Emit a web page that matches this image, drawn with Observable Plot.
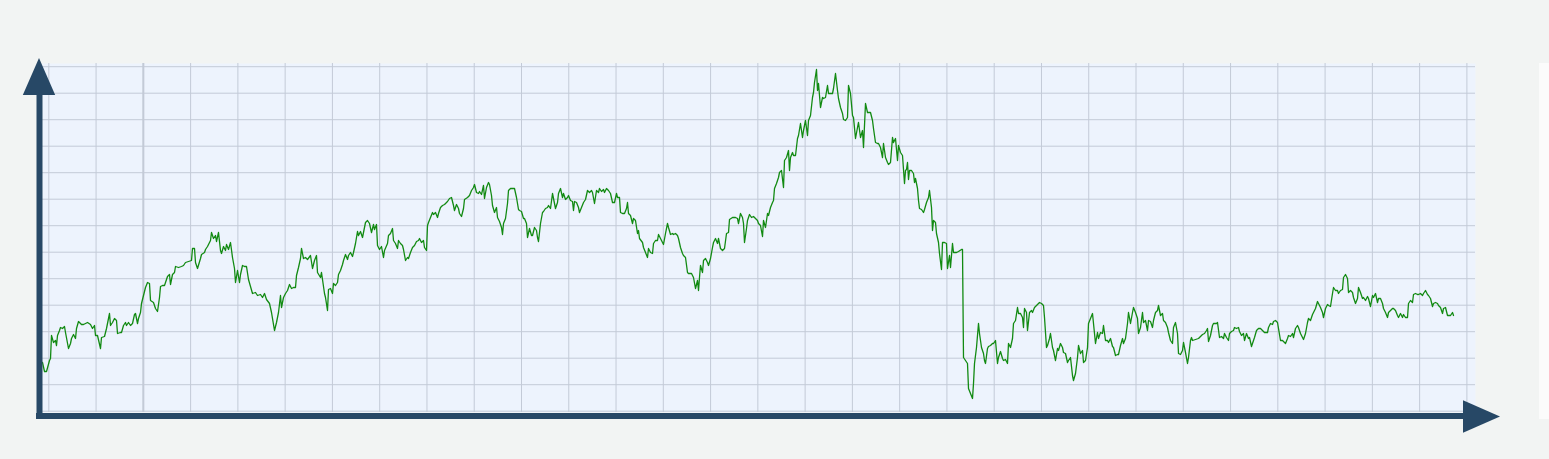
<!DOCTYPE html>
<html><head><meta charset="utf-8">
<script src="https://cdn.jsdelivr.net/npm/d3@7"></script>
<script src="https://cdn.jsdelivr.net/npm/@observablehq/plot@0.6"></script>
<style>
html,body{margin:0;padding:0;background:#f2f4f3;}
#wrap{position:relative;width:1549px;height:459px;overflow:hidden;}
#side{position:absolute;left:1539px;top:63px;width:10px;height:356px;background:#fbfbfb;}
svg{display:block;position:absolute;left:0;top:0;}
</style></head><body><div id="wrap"><div id="side"></div></div>
<script>
// trading-day index (arbitrary origin) and value (arbitrary units)
const days = [
0,2,4,7,8,9,11,13,14,15,17,18,20,22,23,26,28,29,31,33,34,36,39,41,43,45,48,50,52,53,55,58,59,62,64,65,67,68,70,72,
74,75,78,79,81,83,84,86,88,90,92,93,95,96,98,99,101,103,105,107,108,111,113,115,117,118,120,122,123,125,127,128,130,132,133,136,139,141,143,146,
149,150,152,153,155,158,159,162,163,165,168,169,171,173,174,176,178,179,181,183,184,186,188,190,192,193,195,197,198,200,202,204,206,208,210,213,215,218,220,222,
224,227,229,230,232,234,236,238,239,241,243,245,247,249,251,253,254,256,258,259,261,263,265,268,270,272,274,275,278,279,282,283,285,286,288,
290,291,293,295,296,298,300,301,303,305,306,308,310,311,313,315,316,318,320,321,323,325,327,329,331,332,334,335,337,339,
341,342,345,346,348,350,351,353,355,356,358,360,361,363,365,366,368,370,372,374,376,377,379,381,382,384,385,386,388,390,
391,393,395,396,398,400,402,405,407,409,411,412,414,416,417,419,421,422,425,427,429,431,432,434,436,437,439,441,442,444,
446,447,449,450,452,454,455,457,459,460,461,463,465,466,468,470,472,474,476,477,479,481,482,484,485,487,489,490,492,494,
495,496,498,500,501,503,505,506,508,510,511,513,515,516,518,520,521,523,525,526,528,530,531,532,534,536,537,539,541,543,
545,547,549,550,552,554,556,557,559,561,562,564,566,568,570,572,574,575,
577,578,580,582,584,585,586,588,590,591,593,595,596,597,600,601,603,605,606,608,610,611,613,615,616,618,620,621,623,625,
626,628,630,631,633,635,636,638,640,641,643,645,646,649,651,653,655,656,657,658,660,661,663,665,666,668,670,671,673,675,
676,678,680,682,684,686,687,690,691,693,695,696,698,700,701,702,704,705,707,709,711,712,715,716,718,720,721,723,725,726,
728,730,731,732,734,736,737,739,741,742,744,746,747,748,750,751,753,755,756,758,760,761,763,765,766,768,770,771,772,774,
775,776,778,780,781,783,785,786,788,790,791,793,795,796,798,800,801,803,805,806,808,810,811,813,815,816,818,820,821,823,
825,826,828,830,831,833,835,836,838,840,841,843,845,846,848,850,851,853,855,856,858,860,862,863,
864,865,866,867,869,871,872,873,875,876,877,879,881,882,884,886,887,889,890,891,893,894,896,897,899,900,902,904,905,907,
908,910,911,914,916,919,920,921,923,925,926,928,930,931,932,934,936,937,939,941,942,943,945,946,948,950,951,953,955,956,
958,960,961,963,965,966,968,970,971,973,975,976,978,980,981,982,984,985,987,989,990,992,994,996,997,999,1001,1002,1004,1005,
1007,1008,1010,1011,1013,1015,1016,1018,1020,1021,1023,1025,1026,1028,1030,1031,1033,1035,1036,1038,1040,1041,1043,1045,1046,1048,1050,1051,1053,1055,
1056,1058,1060,1061,1063,1065,1066,1068,1070,1071,1073,1075,1076,1078,1080,1081,1083,1085,1086,1088,1090,1091,1093,1095,1096,1098,1100,1101,1103,1105,
1106,1108,1110,1111,1113,1115,1116,1118,1120,1121,1123,1125,1126,1128,1130,1131,1133,1135,1136,1138,1140,1141,1143,1145,1146,1148,
1149,1150,1153,1156,1158,1160,1162,1164,1165,1166,1168,1170,1171,1174,1175,1177,1179,1181,1182,1184,1186,1187,1189,1191,1192,1194,1196,1197,1199,1201,
1202,1204,1206,1207,1209,1211,1212,1214,1216,1218,1220,1222,1225,1226,1228,1230,1231,1233,1235,1236,1238,1240,1241,1243,1245,1246,1248,1250,1251,1253,
1255,1256,1258,1260,1261,1263,1265,1266,1268,1270,1271,1273,1275,1276,1278,1280,1281,1283,1285,1286,1288,1290,1291,1293,1295,1296,1298,1300,1301,1303,
1305,1306,1308,1310,1311,1313,1315,1316,1318,1320,1321,1323,1325,1326,1328,1330,1331,1333,1335,1336,1338,1340,1341,1343,1345,1346,1348,1350,1351,1353,
1355,1356,1358,1360,1361,1363,1365,1366,1368,1370,1371,1373,1375,1376,1378,1380,1381,1383,1385,1386,1388,1390,1391,1393,1395,1396,1398,1400,1401,1403,
1405,1406,1408,1410,1411
];
const values = [
49,40,40,51,53,76,69,71,66,76,81,84,83,85,79,63,68,73,77,73,83,90,87,87,88,89,87,83,86,76,76,63,74,75,83,88,98,86,89,93,
91,78,79,79,86,89,86,89,86,88,97,98,88,93,99,108,116,124,129,128,111,109,103,100,114,125,126,126,129,135,137,127,137,139,145,144,145,146,149,150,
151,163,163,149,143,153,157,159,162,165,171,179,173,176,170,179,161,158,165,161,167,162,169,154,143,129,141,129,137,146,145,145,132,125,118,119,116,117,114,118,
112,108,99,93,81,89,99,116,104,114,118,121,127,123,124,124,136,144,153,163,153,154,152,156,143,151,156,139,134,139,118,114,101,122,123,
118,128,126,129,137,141,147,151,157,152,156,159,155,159,168,180,176,180,174,179,189,191,188,179,187,182,187,166,162,165,
154,161,168,176,178,183,171,168,163,171,168,166,162,151,154,153,159,164,166,170,171,173,169,171,164,161,186,189,194,199,
197,199,194,198,204,206,207,210,213,214,206,201,207,203,198,195,203,212,214,216,221,224,227,219,218,220,217,226,213,224,
229,227,216,206,199,204,194,190,184,177,188,193,208,221,223,223,223,214,202,201,200,193,193,188,174,183,176,176,184,181,
174,170,188,199,200,203,204,206,203,218,213,203,209,218,223,214,218,212,214,216,211,210,201,210,209,204,199,204,209,212,
221,219,221,219,208,221,219,223,220,222,219,223,221,218,209,209,218,214,
214,199,198,198,203,209,198,196,188,193,191,178,181,173,169,164,159,154,163,159,158,168,171,171,177,173,169,167,178,188,
184,177,178,177,178,176,173,164,158,156,154,139,138,138,134,123,131,121,134,146,139,151,153,149,146,153,164,169,173,168,
173,163,161,163,178,179,192,194,194,194,193,188,198,194,188,169,183,191,197,194,195,194,191,188,186,175,191,184,198,196,
204,209,211,223,228,234,239,241,224,251,254,261,241,254,259,256,256,273,276,288,274,281,291,276,291,296,314,319,329,342,
321,328,304,314,313,314,326,318,318,318,323,338,321,313,304,298,292,291,294,326,318,296,294,273,284,289,274,281,264,308,
299,299,299,291,283,269,268,268,264,254,268,254,249,247,249,274,269,273,251,266,259,256,228,241,
242,249,232,241,241,238,229,233,223,211,203,202,199,202,209,214,221,204,181,191,189,178,169,158,142,169,169,168,143,156,
144,168,159,159,160,162,162,54,51,48,23,18,13,28,48,64,88,78,64,58,51,48,63,65,66,68,68,71,48,54,
60,53,51,52,48,68,64,73,88,91,104,98,98,94,84,103,99,81,99,101,99,104,106,108,109,108,106,94,64,66,
73,78,64,61,51,63,61,68,64,59,58,49,51,54,36,31,38,54,66,58,61,49,51,64,88,93,98,88,68,79,
73,79,78,86,71,71,69,73,65,64,56,57,57,66,73,68,73,88,99,88,99,104,99,93,78,84,99,89,91,81,
91,90,84,91,99,101,106,96,98,91,89,84,79,71,68,84,89,78,58,57,61,69,59,48,54,71,
74,71,72,73,75,77,78,81,83,70,76,86,88,88,89,74,75,73,78,74,71,78,80,81,84,83,84,80,76,78,
71,78,73,74,65,71,74,81,83,83,81,79,79,84,88,87,90,91,89,83,71,71,70,68,73,76,75,78,74,83,
86,84,78,74,72,78,89,93,91,97,99,103,110,108,104,99,94,103,107,106,105,118,124,121,121,118,121,122,134,137,
133,119,121,119,114,108,113,124,119,113,114,111,115,113,105,116,114,118,109,113,113,108,103,99,94,99,101,103,103,101,
96,94,98,94,97,94,94,108,111,109,117,118,117,117,118,116,118,121,117,116,113,105,108,109,108,106,104,98,103,104,
96,96,96,99,96
];
if (days.length !== values.length) console.error("length mismatch", days.length, values.length);

// gridline positions (no tick labels are shown)
const xGridStart = 6.3, xGridStep = 47.27, xGridCount = 31;
const yGridStart = 0.3, yGridStep = 26.5, yGridCount = 14;
const xGrid = d3.range(xGridCount).map(k => xGridStart + xGridStep * k);
const yGrid = d3.range(yGridCount).map(k => yGridStart + yGridStep * k);
const strongGrid = [xGrid[2]];

const data = days.map((d, i) => ({day: d, value: values[i]}));

const AXIS = "#274866";
const chart = Plot.plot({
  width: 1549, height: 459,
  marginLeft: 42, marginRight: 74, marginTop: 63, marginBottom: 47,
  style: {background: "transparent", overflow: "visible"},
  x: {domain: [0, 1433], axis: null},
  y: {domain: [-1, 348], axis: null},
  marks: [
    Plot.frame({fill: "#edf3fd", stroke: null}),
    Plot.ruleX(xGrid, {stroke: "#c3cad7", strokeWidth: 1}),
    Plot.ruleY(yGrid, {stroke: "#c3cad7", strokeWidth: 1}),
    Plot.ruleX(strongGrid, {stroke: "#c3cad7", strokeWidth: 2}),
    Plot.line(data, {x: "day", y: "value", stroke: "#128a12", strokeWidth: 1.3}),
    Plot.ruleX([-3], {y1: -7.5, y2: 316, stroke: AXIS, strokeWidth: 6}),
    Plot.ruleY([-4.5], {x1: -6, x2: 1421, stroke: AXIS, strokeWidth: 6})
  ]
});
document.getElementById("wrap").appendChild(chart);

// arrowheads at the axis ends
const sx = chart.scale("x"), sy = chart.scale("y");
const svg = d3.select(chart);
const headLen = 37, headHalf = 16.2;
const ax = sx.apply(-3), atop = sy.apply(316);
svg.append("path")
  .attr("d", `M${ax - headHalf},${atop}L${ax + headHalf},${atop}L${ax},${atop - headLen}Z`)
  .attr("fill", AXIS);
const bx = sx.apply(1421), by = sy.apply(-4.5) + 1;
svg.append("path")
  .attr("d", `M${bx},${by - headHalf}L${bx},${by + headHalf}L${bx + headLen},${by}Z`)
  .attr("fill", AXIS);
</script>
</body></html>
